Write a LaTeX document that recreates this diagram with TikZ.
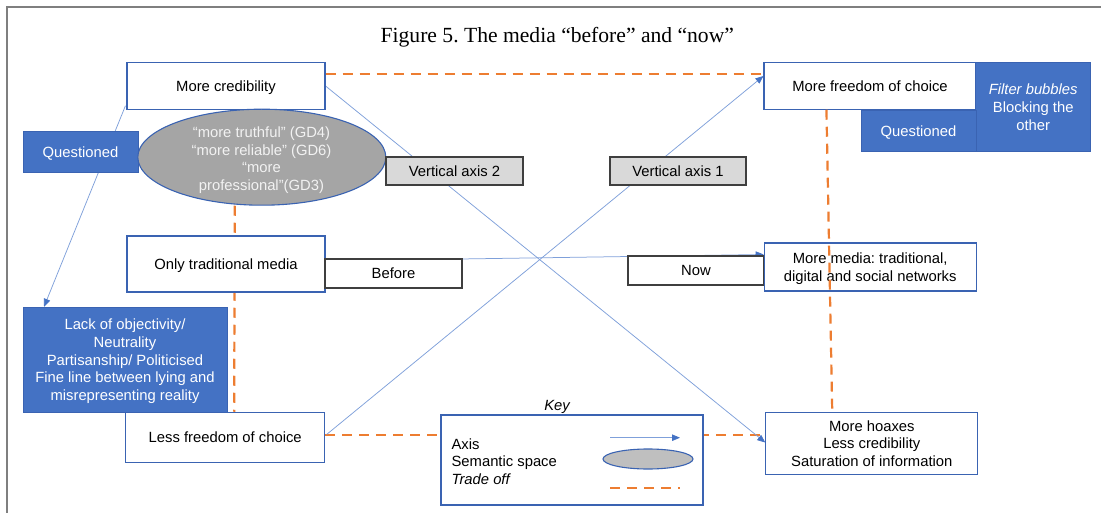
\documentclass[tikz,border=0pt]{standalone}
\usepackage{fontspec}
\setmainfont{Liberation Sans}
\newfontfamily\titlefont{Liberation Serif}
\usetikzlibrary{arrows.meta,calc,backgrounds,shapes.geometric}
\definecolor{boxblue}{HTML}{3A63B2}
\definecolor{fillblue}{HTML}{4472C4}
\definecolor{axisblue}{HTML}{4472C4}
\definecolor{axisline}{HTML}{7FA0DA}
\definecolor{tradeorange}{HTML}{ED7D31}
\definecolor{ellgray}{HTML}{A5A5A5}
\definecolor{keygray}{HTML}{BFBFBF}
\definecolor{labgray}{HTML}{D9D9D9}
\definecolor{darkedge}{HTML}{3F3F3F}
\definecolor{framegray}{HTML}{7F7F7F}
\definecolor{elltext}{HTML}{F2F2F2}
\newcommand\bodyfont{\fontsize{14.8}{17.7}\selectfont\frenchspacing}
\begin{document}
\frenchspacing
\begin{tikzpicture}[x=1pt,y=-1pt,
  every node/.style={font=\bodyfont, inner sep=0pt, align=center},
  txt/.style={text depth=0pt},
  wbox/.style={txt, draw=boxblue, line width=1.1pt, fill=white},
  bbox/.style={txt, draw=boxblue, line width=1pt, fill=fillblue, text=white},
  gbox/.style={txt, draw=darkedge, line width=1.3pt, fill=labgray},
  tbox/.style={txt, draw=darkedge, line width=1.3pt, fill=white},
  axisln/.style={draw=axisline, line width=0.75pt},
  axisarrow/.style={axisln, -{Triangle[length=8pt,width=6.5pt,color=axisblue]}},
  tradeoff/.style={draw=tradeorange, line width=2.2pt, dash pattern=on 10pt off 7pt},
  sem/.style={ellipse, draw=boxblue, line width=1.1pt},
]
\useasboundingbox (0,0) rectangle (1101,513);
\draw[framegray, line width=1.2pt] (7,513) -- (7,7) -- (1101,7);

\node[font=\titlefont\fontsize{21.6}{24}\selectfont\frenchspacing, anchor=base] (title) at (557.3,42.7)
  {Figure 5. The media “before” and “now”};

% nodes
\node[wbox, minimum width=198pt, minimum height=47pt] (cred) at (226,85.7) {More credibility};
\node[bbox, minimum width=115pt, minimum height=41pt] (qL) at (80.5,152.5) {Questioned};
\node[sem, fill=ellgray, minimum width=248pt, minimum height=96pt] (ell) at (261.8,157.2) {};
\node[txt, text=elltext] (elltxt) at (261.5,158.5) {“more truthful” (GD4)\\“more reliable” (GD6)\\“more\\professional”(GD3)};
\node[gbox, minimum width=137pt, minimum height=28pt] (va2) at (454.5,171) {Vertical axis 2};
\node[gbox, minimum width=136pt, minimum height=28pt] (va1) at (678,171) {Vertical axis 1};
\node[wbox, minimum width=198pt, minimum height=56pt] (only) at (226,264) {Only traditional media};
\node[tbox, minimum width=137pt, minimum height=29pt] (before) at (393.5,273.5) {Before};
\node[tbox, minimum width=136pt, minimum height=29pt] (now) at (696,270.5) {Now};
\node[wbox, minimum width=212pt, minimum height=48pt] (mm) at (870.2,267) {More media: traditional,\\digital and social networks};
\node[wbox, minimum width=212pt, minimum height=47pt] (free) at (870,85.7) {More freedom of choice};
\node[bbox, minimum width=114.5pt, minimum height=89.7pt] (filt) at (1033.2,107) {\textit{Filter bubbles}\\Blocking the\\other};
\node[bbox, minimum width=115pt, minimum height=40.7pt] (qR) at (918.5,131.3) {Questioned};
\node[bbox, minimum width=204pt, minimum height=105pt] (lack) at (125,359.8) {Lack of objectivity/\\Neutrality\\Partisanship/ Politicised\\Fine line between lying and\\misrepresenting reality};
\node[wbox, minimum width=199pt, minimum height=50.4pt] (less) at (225.2,437.5) {Less freedom of choice};
\node[wbox, minimum width=262pt, minimum height=90pt] (key) at (572,460) {};
\node[font=\bodyfont\itshape] (keylab) at (557,406.7) {Key};
\node[txt, anchor=west, align=left] (keytxt) at (451.4,461.5) {Axis\\Semantic space\\\textit{Trade off}};
\node[wbox, minimum width=212pt, minimum height=61.6pt] (hoax) at (871.8,443.5) {More hoaxes\\Less credibility\\Saturation of information};

% key symbols
\coordinate (ka1) at (610,437.7);
\coordinate (ka2) at (680,437.7);
\draw[axisarrow] (ka1) -- (ka2);
\node[sem, fill=keygray, minimum width=90pt, minimum height=20pt] (kell) at (648,459) {};
\coordinate (kd1) at (610,487.7);
\coordinate (kd2) at (680,487.7);
\draw[tradeoff] (kd1) -- (kd2);

% connectors behind the boxes
\begin{pgfonlayer}{background}
\draw[tradeoff] ($(cred.north east)+(0,12)$) -- ($(free.north west)+(0,12)$);
\draw[tradeoff] ($(ell.south)+(-27,0)$) -- ($(less.north west)+(109,0)$);
\draw[tradeoff] ($(less.east)+(0,-2.5)$) -- ($(hoax.west)+(0,-8.5)$);
\draw[axisarrow] ($(less.north east)+(1.4,22.7)$) -- ($(free.west)+(0,-9.7)$);
\draw[axisarrow] ($(cred.east)+(0,0.3)$) -- ($(hoax.west)+(0,-1)$);
\draw[axisarrow] ($(only.east)+(0,-3)$) -- ($(mm.west)+(0,-12.5)$);
\draw[axisarrow] ($(cred.south west)+(-1,-4)$) -- ($(lack.north west)+(21.5,0)$);
\end{pgfonlayer}
\draw[tradeoff] ($(free.south west)+(63,0)$) -- ($(hoax.north west)+(67,0)$);
\end{tikzpicture}
\end{document}
